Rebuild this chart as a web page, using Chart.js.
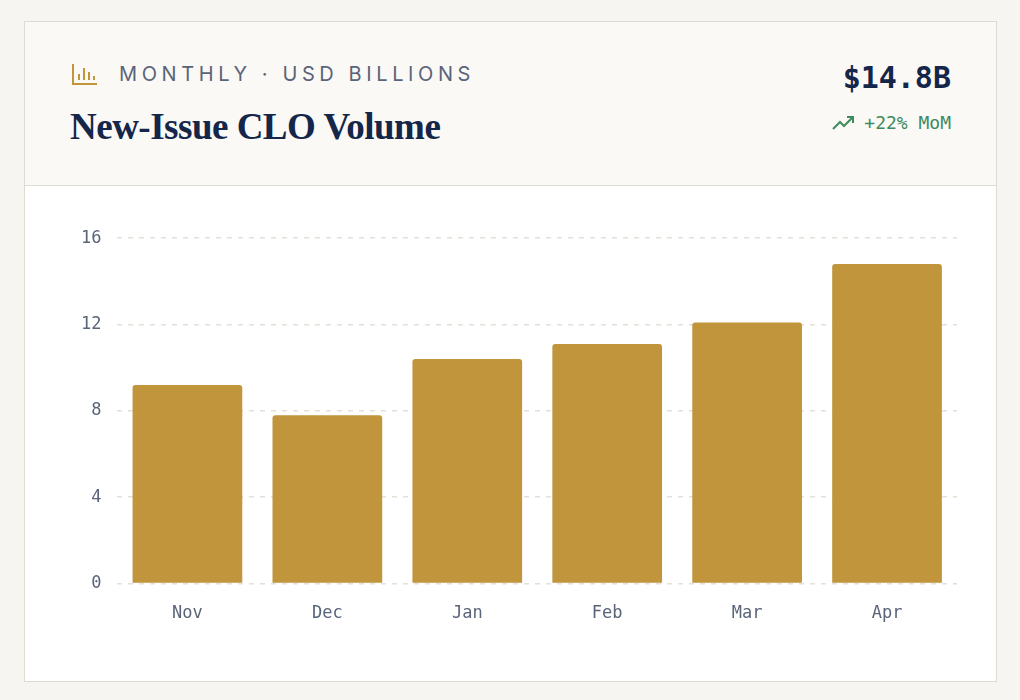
<!DOCTYPE html>
<html><head><meta charset="utf-8">
<script src="https://cdn.jsdelivr.net/npm/chart.js@4"></script>
<style>
body{margin:0;background:#f6f5f2;width:1020px;height:700px;font-family:Inter,"Noto Sans",sans-serif}
.card{position:absolute;left:24px;top:21px;width:973px;height:661px;background:#fff;border:1px solid #dedbd2;box-sizing:border-box}
.head{height:163px;background:#faf9f6;border-bottom:1px solid #dedbd2;position:relative}
.kicker{position:absolute;left:46px;top:40px;font-size:20px;letter-spacing:4.6px;color:#5a6478;display:flex;align-items:center}
.kicker svg{margin-right:20px}
.title{position:absolute;left:45px;top:83px;font-family:"Liberation Serif","DejaVu Serif",serif;font-weight:bold;font-size:37px;color:#14264a;letter-spacing:-0.5px}
.big{position:absolute;right:45px;top:38px;font-family:"DejaVu Sans Mono",monospace;font-weight:bold;font-size:30px;color:#14264a}
.chg{position:absolute;right:45px;top:90px;font-family:"DejaVu Sans Mono",monospace;font-size:18px;color:#3f8a5c;display:flex;align-items:center}
.chg svg{margin-right:8px}
.wrap{position:absolute;left:40px;top:190px;width:900px;height:424px}
</style></head><body>
<div class="card">
 <div class="head">
  <div class="kicker"><svg width="28" height="24" viewBox="0 0 28 24" fill="none" stroke="#c1953b" stroke-width="2"><path d="M2 2v20h24M8 18v-6M13 18V6M18 18v-8M23 18v-4"/></svg>MONTHLY · USD BILLIONS</div>
  <div class="title">New-Issue CLO Volume</div>
  <div class="big">$14.8B</div>
  <div class="chg"><svg width="24" height="16" viewBox="0 0 24 16" fill="none" stroke="#3f8a5c" stroke-width="2"><path d="M1 14l7-7 4 4 9-9M15 2h6v6"/></svg>+22% MoM</div>
 </div>
 <div class="wrap"><canvas id="c"></canvas></div>
</div>
<script>
const months = ["Nov","Dec","Jan","Feb","Mar","Apr"];
const volumes = [9.2, 7.8, 10.4, 11.1, 12.1, 14.8];
const yTicks = [0, 4, 8, 12, 16];

new Chart(document.getElementById('c'), {
  type: 'bar',
  data: {labels: months, datasets: [{data: volumes, backgroundColor: '#c1953b',
    borderRadius: {topLeft: 3, topRight: 3}, borderSkipped: 'bottom',
    categoryPercentage: 0.8, barPercentage: 0.98}]},
  options: {
    responsive: true, maintainAspectRatio: false, animation: false,
    layout: {padding: {top: 12, right: 8}},
    plugins: {legend: {display: false}, tooltip: {enabled: false}},
    scales: {
      x: {grid: {display: false}, border: {display: false},
          ticks: {color: '#5a6478', font: {family: 'DejaVu Sans Mono', size: 17}, padding: 12}},
      y: {min: 0, max: 16, border: {display: false, dash: [5, 6]},
          afterBuildTicks: ax => { ax.ticks = yTicks.map(v => ({value: v})); },
          grid: {color: '#e3e0d8', lineWidth: 1.5, drawTicks: false},
          ticks: {color: '#5a6478', font: {family: 'DejaVu Sans Mono', size: 17}, padding: 16}}
    }
  }
});
</script>
</body></html>
